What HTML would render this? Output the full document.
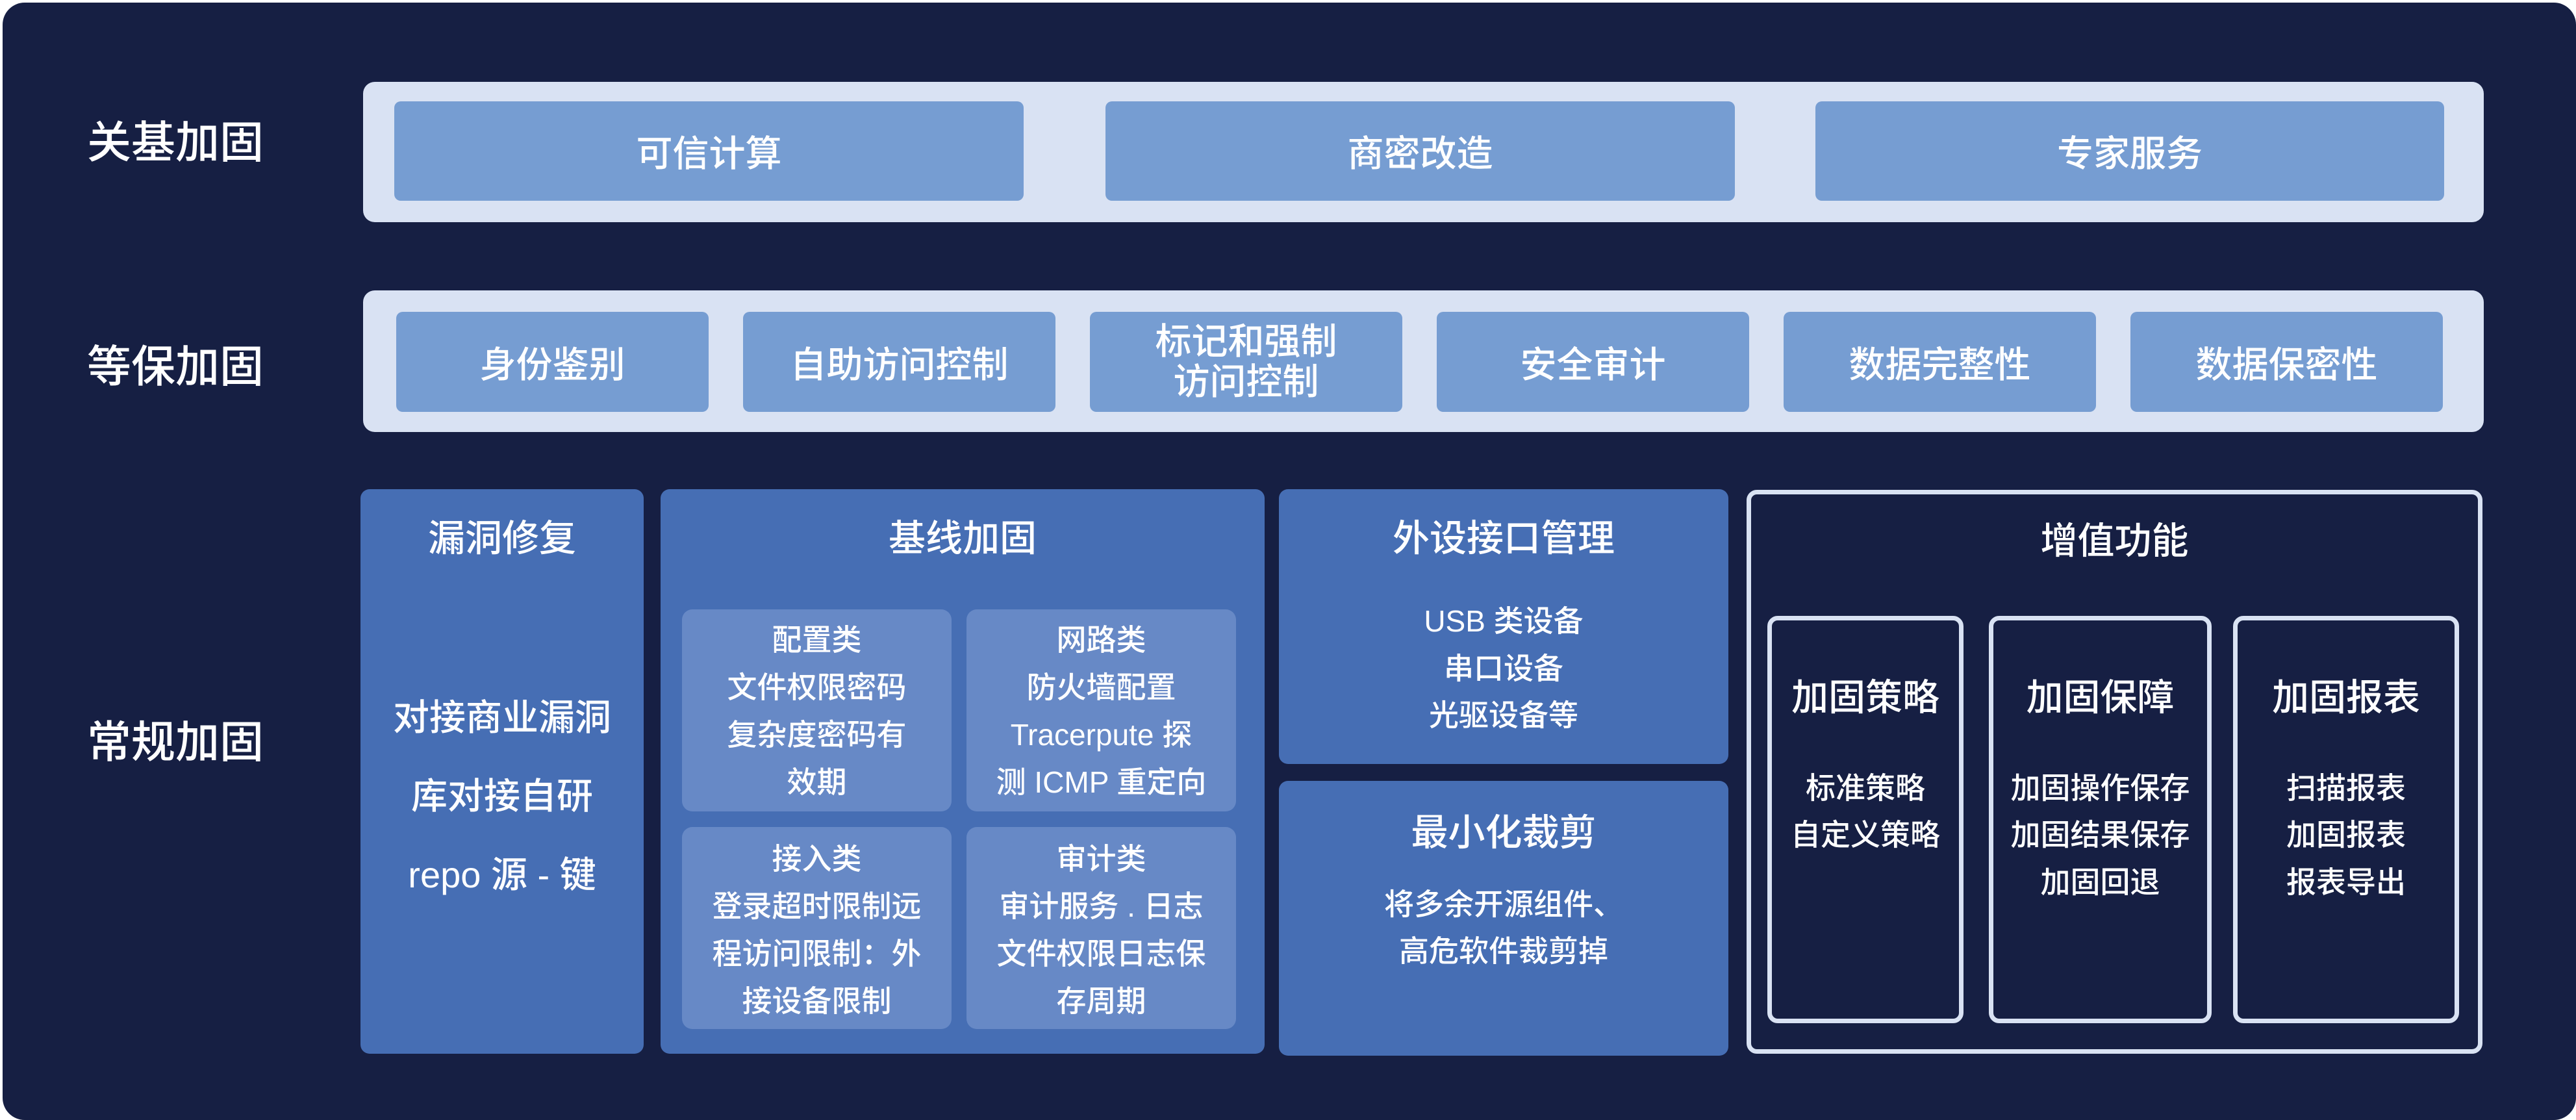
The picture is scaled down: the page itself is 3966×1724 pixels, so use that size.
<!DOCTYPE html>
<html><head><meta charset="utf-8"><style>
html,body{margin:0;padding:0;background:#fff;}
body{width:3966px;height:1724px;position:relative;overflow:hidden;font-family:"Liberation Sans","Noto Sans CJK SC",sans-serif;color:#fff;font-weight:500;}
.a{position:absolute;box-sizing:border-box;}
.c{display:flex;align-items:center;justify-content:center;text-align:center;}
.band{background:#d9e2f3;border-radius:18px;}
.lb{background:#769dd2;border-radius:10px;font-size:56px;}
.big{background:#466eb4;border-radius:14px;}
.sub{background:#6789c6;border-radius:16px;}
.t{position:absolute;left:0;right:0;text-align:center;line-height:1;}
.ol{border:7px solid #d9e2f3;border-radius:16px;}
.lab{font-size:68px;left:134px;line-height:1;position:absolute;}
</style></head><body>
<div class="a" style="left:4px;top:4px;width:3962px;height:1720px;background:#161f43;border-radius:34px;"></div>

<div class="lab" style="top:186px;">关基加固</div>
<div class="lab" style="top:531px;">等保加固</div>
<div class="lab" style="top:1109px;">常规加固</div>

<div class="a band" style="left:559px;top:126px;width:3265px;height:216px;"></div>
<div class="a lb c" style="left:607px;top:156px;width:969px;height:153px;">可信计算</div>
<div class="a lb c" style="left:1702px;top:156px;width:969px;height:153px;">商密改造</div>
<div class="a lb c" style="left:2795px;top:156px;width:968px;height:153px;">专家服务</div>

<div class="a band" style="left:559px;top:447px;width:3265px;height:218px;"></div>
<div class="a lb c" style="left:610px;top:480px;width:481px;height:154px;">身份鉴别</div>
<div class="a lb c" style="left:1144px;top:480px;width:481px;height:154px;">自助访问控制</div>
<div class="a lb c" style="left:1678px;top:480px;width:481px;height:154px;line-height:1.1;">标记和强制<br>访问控制</div>
<div class="a lb c" style="left:2212px;top:480px;width:481px;height:154px;">安全审计</div>
<div class="a lb c" style="left:2746px;top:480px;width:481px;height:154px;">数据完整性</div>
<div class="a lb c" style="left:3280px;top:480px;width:481px;height:154px;">数据保密性</div>

<div class="a big" style="left:555px;top:753px;width:436px;height:869px;">
  <div class="t" style="top:48px;font-size:57px;">漏洞修复</div>
  <div class="t" style="top:324px;font-size:56px;">对接商业漏洞</div>
  <div class="t" style="top:445px;font-size:56px;">库对接自研</div>
  <div class="t" style="top:566px;font-size:56px;">repo 源 - 键</div>
</div>

<div class="a big" style="left:1017px;top:753px;width:930px;height:869px;">
  <div class="t" style="top:48px;font-size:57px;">基线加固</div>
</div>
<div class="a sub" style="left:1050px;top:938px;width:415px;height:311px;font-size:46px;">
  <div class="t" style="top:24px;">配置类</div>
  <div class="t" style="top:97px;">文件权限密码</div>
  <div class="t" style="top:170px;">复杂度密码有</div>
  <div class="t" style="top:243px;">效期</div>
</div>
<div class="a sub" style="left:1488px;top:938px;width:415px;height:311px;font-size:46px;">
  <div class="t" style="top:24px;">网路类</div>
  <div class="t" style="top:97px;">防火墙配置</div>
  <div class="t" style="top:170px;">Tracerpute 探</div>
  <div class="t" style="top:243px;">测 ICMP 重定向</div>
</div>
<div class="a sub" style="left:1050px;top:1273px;width:415px;height:311px;font-size:46px;">
  <div class="t" style="top:26px;">接入类</div>
  <div class="t" style="top:99px;">登录超时限制远</div>
  <div class="t" style="top:172px;">程访问限制：外</div>
  <div class="t" style="top:245px;">接设备限制</div>
</div>
<div class="a sub" style="left:1488px;top:1273px;width:415px;height:311px;font-size:46px;">
  <div class="t" style="top:26px;">审计类</div>
  <div class="t" style="top:99px;">审计服务 . 日志</div>
  <div class="t" style="top:172px;">文件权限日志保</div>
  <div class="t" style="top:245px;">存周期</div>
</div>

<div class="a big" style="left:1969px;top:753px;width:692px;height:423px;">
  <div class="t" style="top:48px;font-size:57px;">外设接口管理</div>
  <div class="t" style="top:180px;font-size:46px;">USB 类设备</div>
  <div class="t" style="top:253px;font-size:46px;">串口设备</div>
  <div class="t" style="top:325px;font-size:46px;">光驱设备等</div>
</div>
<div class="a big" style="left:1969px;top:1202px;width:692px;height:423px;">
  <div class="t" style="top:52px;font-size:57px;">最小化裁剪</div>
  <div class="t" style="top:167px;font-size:46px;">将多余开源组件、</div>
  <div class="t" style="top:239px;font-size:46px;">高危软件裁剪掉</div>
</div>

<div class="a ol" style="left:2689px;top:754px;width:1133px;height:868px;">
  <div class="t" style="top:44px;font-size:57px;">增值功能</div>
</div>
<div class="a ol" style="left:2721px;top:948px;width:302px;height:627px;">
  <div class="t" style="top:91px;font-size:57px;">加固策略</div>
  <div class="t" style="top:235px;font-size:46px;">标准策略</div>
  <div class="t" style="top:307px;font-size:46px;">自定义策略</div>
</div>
<div class="a ol" style="left:3062px;top:948px;width:343px;height:627px;">
  <div class="t" style="top:91px;font-size:57px;">加固保障</div>
  <div class="t" style="top:235px;font-size:46px;">加固操作保存</div>
  <div class="t" style="top:307px;font-size:46px;">加固结果保存</div>
  <div class="t" style="top:380px;font-size:46px;">加固回退</div>
</div>
<div class="a ol" style="left:3438px;top:948px;width:348px;height:627px;">
  <div class="t" style="top:91px;font-size:57px;">加固报表</div>
  <div class="t" style="top:235px;font-size:46px;">扫描报表</div>
  <div class="t" style="top:307px;font-size:46px;">加固报表</div>
  <div class="t" style="top:380px;font-size:46px;">报表导出</div>
</div>
</body></html>
